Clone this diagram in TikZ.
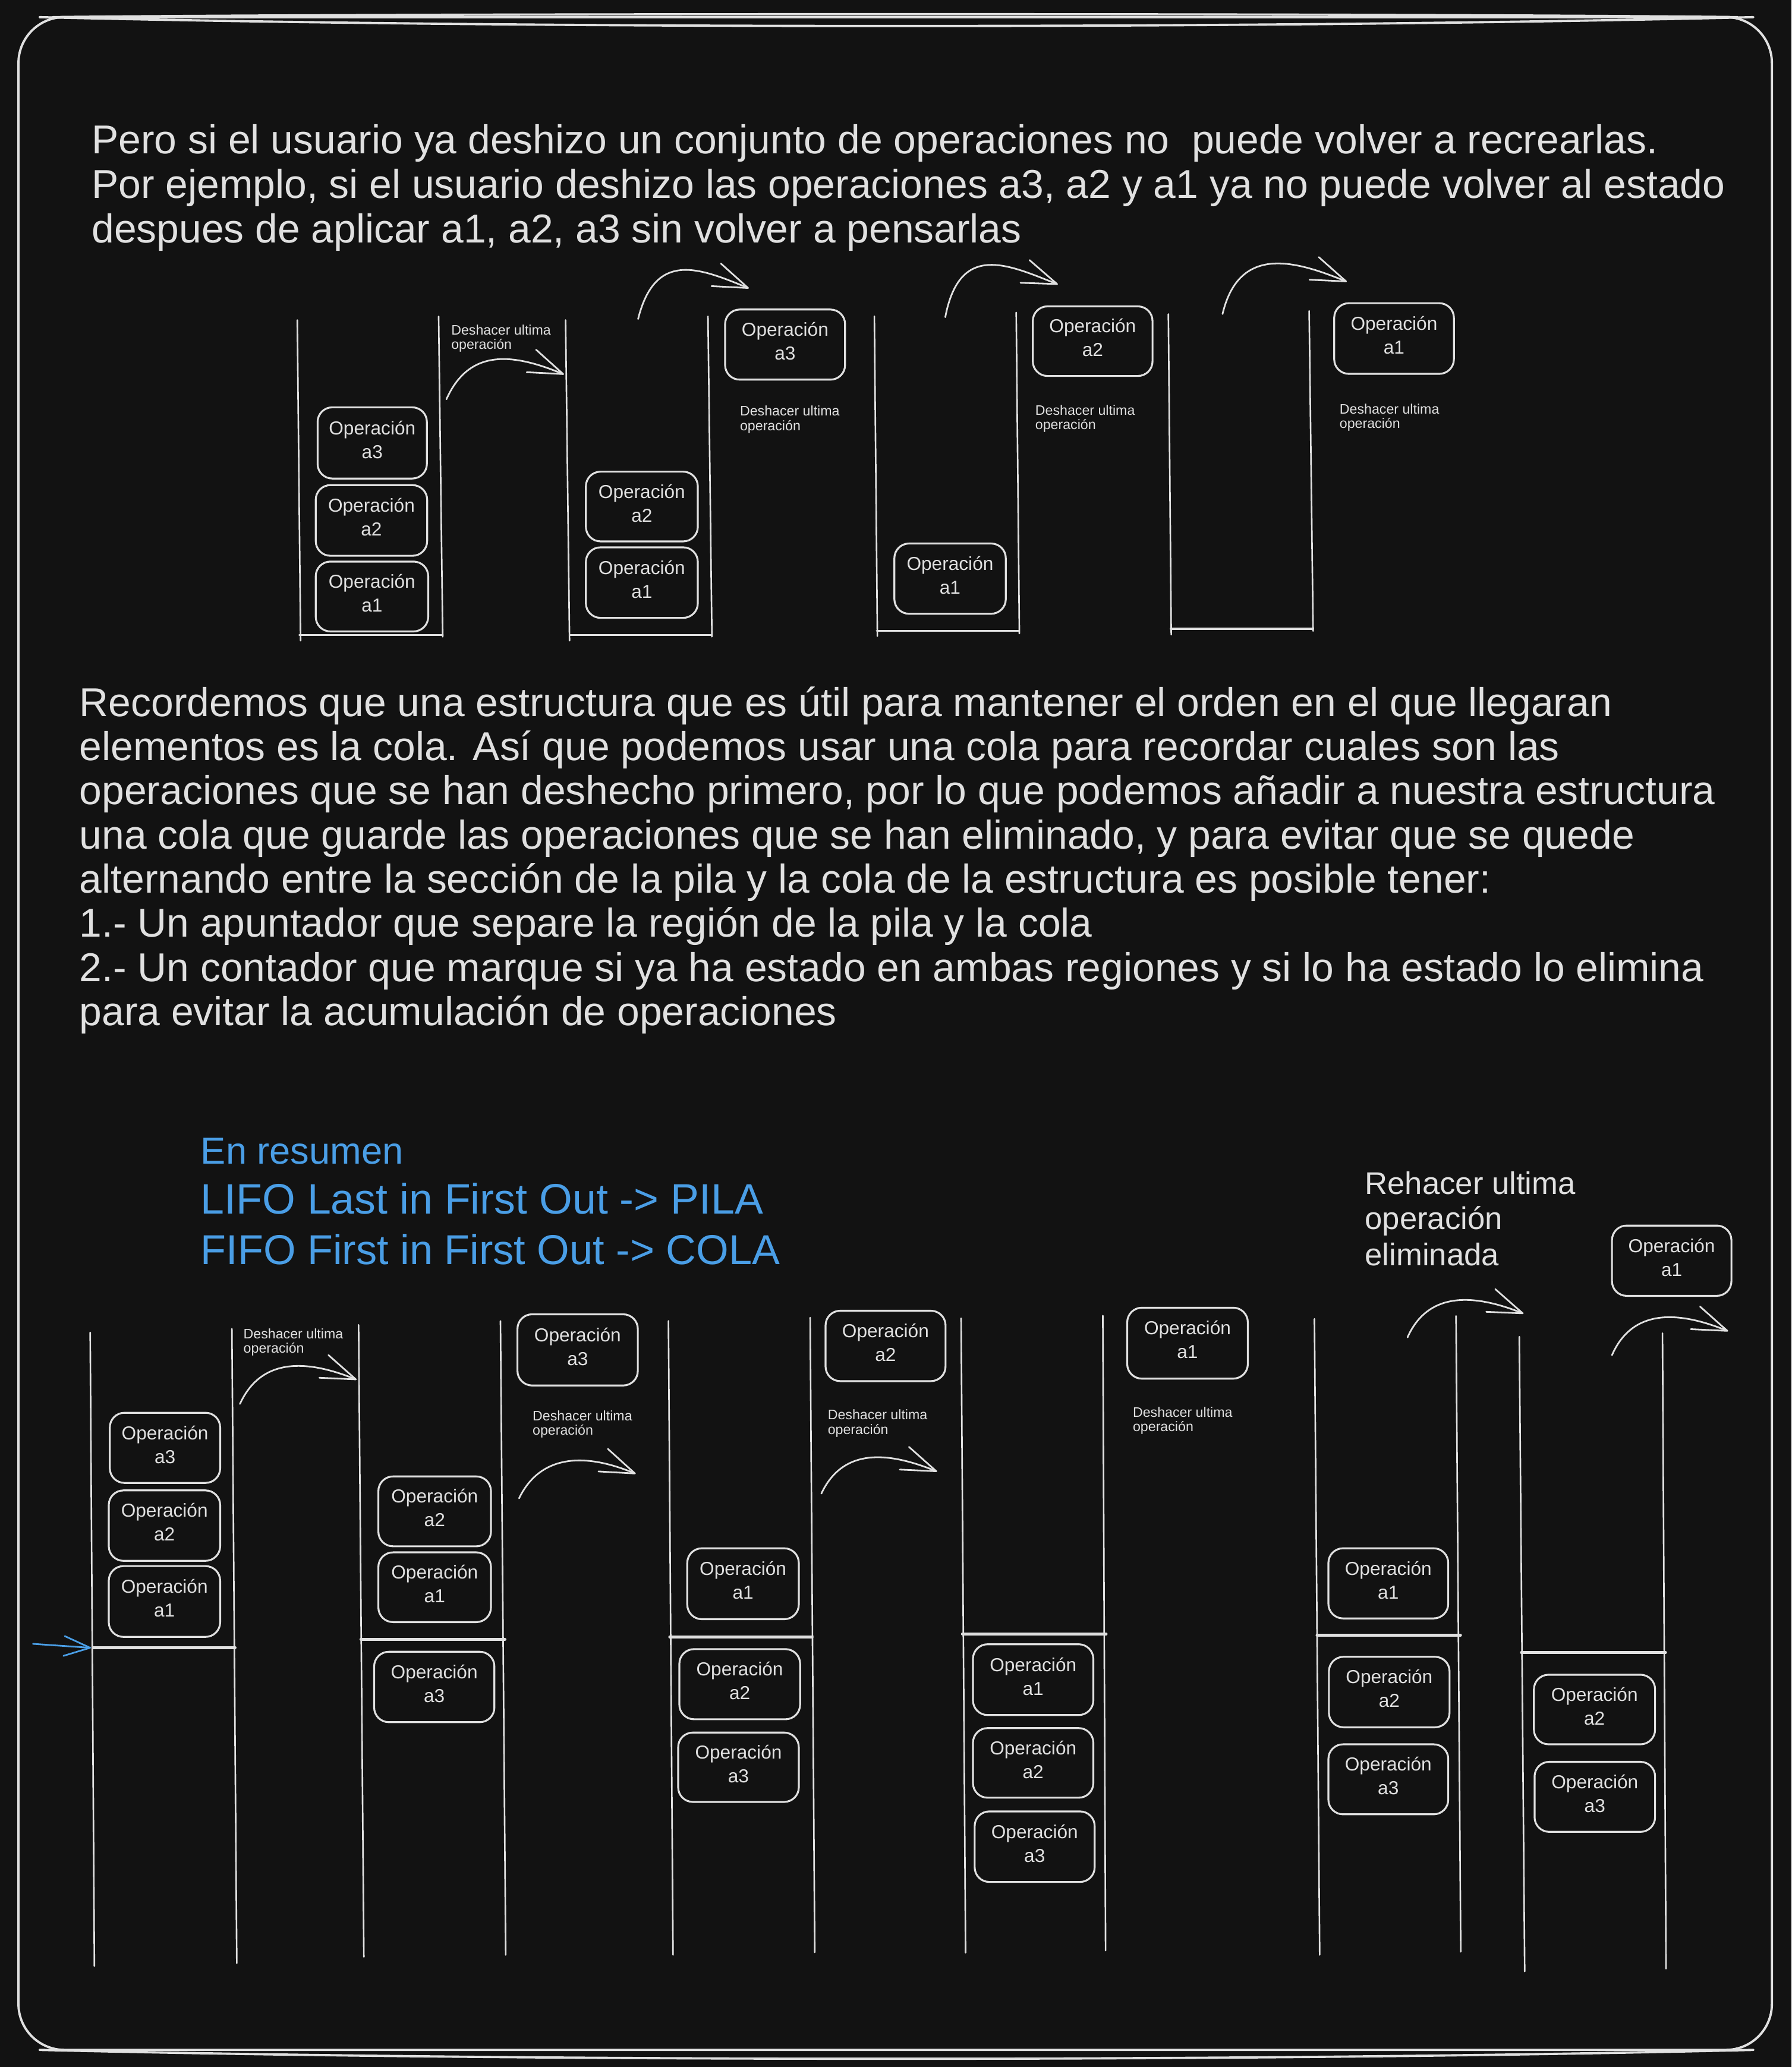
\documentclass[tikz,border=0pt]{standalone}
\usepackage{fontspec}
\setmainfont{Liberation Sans}
\usetikzlibrary{arrows.meta,fit,calc}
\definecolor{bgc}{RGB}{18,18,18}
\definecolor{ink}{RGB}{224,224,224}
\definecolor{bluec}{RGB}{74,158,230}
\tikzset{
  stk/.style={draw=ink, line width=0.75pt, line cap=round},
  bottomline/.style={draw=ink, line width=0.9pt, line cap=round},
  divider/.style={draw=ink, line width=1.4pt, line cap=round},
  opbox/.style={draw=ink, line width=0.9pt, rounded corners=7pt, inner sep=0pt},
  boxtxt/.style={text=ink, font=\fontsize{9}{11.4}\selectfont, align=center, inner sep=0pt},
  lbl/.style={text=ink, font=\fontsize{6.6}{7}\selectfont, inner sep=0pt, anchor=base west},
  para/.style={text=ink, font=\fontsize{19.3}{21}\selectfont, inner sep=0pt, anchor=base west},
  bluetxt/.style={text=bluec, font=\fontsize{20.4}{22}\selectfont, inner sep=0pt, anchor=base west},
  redo/.style={text=ink, font=\fontsize{15}{17}\selectfont, inner sep=0pt, anchor=base west},
  arr/.style={draw=ink, line width=0.8pt, line cap=round, line join=round, -{Straight Barb[length=16.5pt,width=11.7pt,line width=0.8pt,round]}},
  barr/.style={draw=bluec, line width=0.8pt, line cap=round, line join=round, -{Straight Barb[length=12.5pt,width=9.5pt,line width=0.8pt,round]}},
  frame/.style={draw=ink, line width=1.1pt, line cap=round}
}
\newcommand{\opb}[6]{%
  \node[opbox, fit={(#2,#3) (#4,#5)}] (#1) {};
  \node[boxtxt] (#1t) at ([yshift=1.6pt]#1.center) {Operación\\#6};
}
\newcommand{\dlbl}[3]{%
  \node[lbl] (#1) at (#2,#3) {Deshacer ultima};
  \node[lbl] (#1b) at ([yshift=-6.9pt]#1.base west) {operación};
}
\begin{document}
\begin{tikzpicture}[x=0.02218cm, y=-0.02218cm]
\fill[bgc] (0,0) rectangle (1359,1568);
\useasboundingbox (0,0) rectangle (1359,1568);

% frame
\draw[frame, rounded corners=22pt] (14,13) rectangle (1344,1555);
\draw[frame] (40,13) .. controls (300,10) and (1060,10) .. (1318,13);
\draw[frame] (30,13) .. controls (400,22) and (960,22) .. (1330,13);
\draw[frame] (30,1555) .. controls (400,1564) and (960,1564) .. (1330,1555);

% paragraph 1
\node[para] (p1l1) at (69.3,116.5) {Pero si el usuario ya deshizo un conjunto de operaciones no\ \ puede volver a recrearlas.};
\node[para] (p1l2) at (69.3,150.3) {Por ejemplo, si el usuario deshizo las operaciones a3, a2 y a1 ya no puede volver al estado};
\node[para] (p1l3) at (69.3,184) {despues de aplicar a1, a2, a3 sin volver a pensarlas};

% paragraph 2
\node[para] (p2l1) at (60,543.4) {Recordemos que una estructura que es útil para mantener el orden en el que llegaran};
\node[para] (p2l2) at (60,576.9) {elementos es la cola. Así que podemos usar una cola para recordar cuales son las};
\node[para] (p2l3) at (60,610.4) {operaciones que se han deshecho primero, por lo que podemos añadir a nuestra estructura};
\node[para] (p2l4) at (60,643.9) {una cola que guarde las operaciones que se han eliminado, y para evitar que se quede};
\node[para] (p2l5) at (60,677.4) {alternando entre la sección de la pila y la cola de la estructura es posible tener:};
\node[para] (p2l6) at (60,710.9) {1.- Un apuntador que separe la región de la pila y la cola};
\node[para] (p2l7) at (60,744.4) {2.- Un contador que marque si ya ha estado en ambas regiones y si lo ha estado lo elimina};
\node[para] (p2l8) at (60,777.9) {para evitar la acumulación de operaciones};

% blue summary
\node[bluetxt, font=\fontsize{18}{20}\selectfont] (b1) at (152,883) {En resumen};
\node[bluetxt] (b2) at (152,921) {LIFO Last in First Out -> PILA};
\node[bluetxt, font=\fontsize{20}{22}\selectfont] (b3) at (152,959) {FIFO First in First Out -> COLA};

% redo text
\node[redo] (r1) at (1035,906) {Rehacer ultima};
\node[redo] (r2) at (1035,932.5) {operación};
\node[redo] (r3) at (1035,960) {eliminada};

% ================= TOP DIAGRAM =================
% stack 1
\draw[stk] (225.5,242.8) -- (228,486);
\draw[stk] (332.7,240) -- (335.8,483);
\draw[bottomline] (227,481.6) -- (336,481.6);
\opb{t1a3}{240.9}{309}{323.8}{363}{a3}
\opb{t1a2}{239.5}{368}{324}{421.6}{a2}
\opb{t1a1}{239.5}{426}{324.8}{479}{a1}
\dlbl{tl1}{342}{254}
\coordinate (t1s) at (338.6,302.9);
\coordinate (t1e) at (427.8,284);
\draw[arr] (t1s) .. controls (356,264) and (389,268) .. (t1e);

% stack 2
\draw[stk] (429,242.8) -- (432,486);
\draw[stk] (537,240) -- (540,483);
\draw[bottomline] (432,481.6) -- (540,481.6);
\opb{t2a2}{444.4}{357.8}{529.3}{410.7}{a2}
\opb{t2a1}{444.4}{415.2}{529.3}{468.7}{a1}
\opb{t2o}{550}{234.8}{641}{288}{a3}
\dlbl{tl2}{561}{315.5}
\coordinate (t2s) at (484,242);
\coordinate (t2e) at (568,218.7);
\draw[arr] (t2s) .. controls (497,190) and (530,203) .. (t2e);

% stack 3
\draw[stk] (663.2,239.9) -- (665.5,482.6);
\draw[stk] (770.8,237) -- (773.2,480.6);
\draw[bottomline] (665,478.7) -- (773,478.7);
\opb{t3a1}{678.4}{412.3}{762.9}{465.6}{a1}
\opb{t3o}{783.4}{232.4}{874.2}{285.2}{a2}
\dlbl{tl3}{785}{315}
\coordinate (t3s) at (717,240.6);
\coordinate (t3e) at (802.4,215.7);
\draw[arr] (t3s) .. controls (728,183) and (765,201) .. (t3e);

% stack 4
\draw[stk] (886.2,238.2) -- (888.4,481.5);
\draw[stk] (993,235.8) -- (996,478.7);
\draw[bottomline] (888,477) -- (996,477);
\opb{t4o}{1012}{230}{1102.8}{283.6}{a1}
\dlbl{tl4}{1015.8}{314.1}
\coordinate (t4s) at (927.3,238.2);
\coordinate (t4e) at (1021.6,213.7);
\draw[arr] (t4s) .. controls (940,185) and (983,198) .. (t4e);

% ================= BOTTOM DIAGRAM =================
% stack A
\draw[stk] (68.4,1010.7) -- (71.6,1491.5);
\draw[stk] (175.9,1008) -- (179.6,1489.3);
\draw[divider] (70.5,1249.8) -- (178.3,1249.8);
\opb{bAa3}{83.3}{1071.7}{167}{1124.9}{a3}
\opb{bAa2}{82.5}{1130.6}{167}{1184}{a2}
\opb{bAa1}{82.5}{1188}{167}{1241.7}{a1}
\dlbl{bl1}{184.4}{1015.5}
\coordinate (b1s) at (182,1065);
\coordinate (b1e) at (270.5,1046.6);
\draw[arr] (b1s) .. controls (198,1030) and (232,1031) .. (b1e);
\coordinate (ps) at (25,1247);
\coordinate (pe) at (69,1250);
\draw[barr] (ps) -- (pe);

% stack B
\draw[stk] (272,1005) -- (276,1484.5);
\draw[stk] (379.6,1002) -- (383.6,1483);
\draw[divider] (273.8,1243.5) -- (383,1243.5);
\opb{bBa2}{287}{1120}{372.4}{1173}{a2}
\opb{bBa1}{287}{1177.6}{372.4}{1230.5}{a1}
\opb{bBa3}{283.8}{1253}{375}{1306.4}{a3}
\opb{bBo}{392.5}{997}{483.8}{1051}{a3}
\dlbl{bl2}{403.7}{1077.5}
\coordinate (b2s) at (393.7,1136.6);
\coordinate (b2e) at (482.2,1118);
\draw[arr] (b2s) .. controls (410,1103) and (444,1102) .. (b2e);

% stack C
\draw[stk] (507,1002) -- (510.5,1483);
\draw[stk] (614.5,999.5) -- (618,1481);
\draw[divider] (508,1241.6) -- (616,1241.6);
\opb{bCa1}{521.3}{1174.5}{605.9}{1228.3}{a1}
\opb{bCa2}{515.3}{1251}{606.9}{1304.2}{a2}
\opb{bCa3}{514.4}{1314.3}{605.9}{1366.9}{a3}
\opb{bCo}{626.2}{994.3}{717.2}{1047.7}{a2}
\dlbl{bl3}{627.6}{1077}
\coordinate (b3s) at (623,1133);
\coordinate (b3e) at (710.8,1116.3);
\draw[arr] (b3s) .. controls (639,1099) and (672,1100.5) .. (b3e);

% stack D
\draw[stk] (729,1000) -- (732.4,1481.3);
\draw[stk] (836.5,998) -- (838.6,1479.7);
\draw[divider] (730,1239.4) -- (839,1239.4);
\opb{bDa1}{738}{1247.3}{829.3}{1301}{a1}
\opb{bDa2}{738}{1310.9}{829.3}{1363.7}{a2}
\opb{bDa3}{739.3}{1374.1}{830.3}{1427.6}{a3}
\opb{bDo}{855}{992}{946.5}{1045.8}{a1}
\dlbl{bl4}{859}{1075}

% stack E
\draw[stk] (997,1000.5) -- (1001,1483);
\draw[stk] (1104.4,998.2) -- (1108,1480.6);
\draw[divider] (999,1240.4) -- (1107.8,1240.4);
\opb{bEa1}{1007.6}{1174.5}{1098.5}{1227.7}{a1}
\opb{bEa2}{1008}{1256.8}{1099.5}{1310.3}{a2}
\opb{bEa3}{1007.6}{1323.2}{1098.5}{1376.3}{a3}
\coordinate (b4s) at (1067.6,1014.5);
\coordinate (b4e) at (1155.6,996.5);
\draw[arr] (b4s) .. controls (1083,980) and (1117,981) .. (b4e);

% stack F
\draw[stk] (1152.4,1014) -- (1156.5,1495.5);
\draw[stk] (1261,1011.3) -- (1263.7,1493.4);
\draw[divider] (1154,1253.6) -- (1263.3,1253.6);
\opb{bFa2}{1163.5}{1270.4}{1255.4}{1323.2}{a2}
\opb{bFa3}{1164}{1336.5}{1255.4}{1389.6}{a3}
\opb{bFo}{1222.7}{929.7}{1313.3}{983}{a1}
\coordinate (b5s) at (1222.7,1028);
\coordinate (b5e) at (1310.8,1009.8);
\draw[arr] (b5s) .. controls (1238,993) and (1272,994) .. (b5e);
\end{tikzpicture}
\end{document}
